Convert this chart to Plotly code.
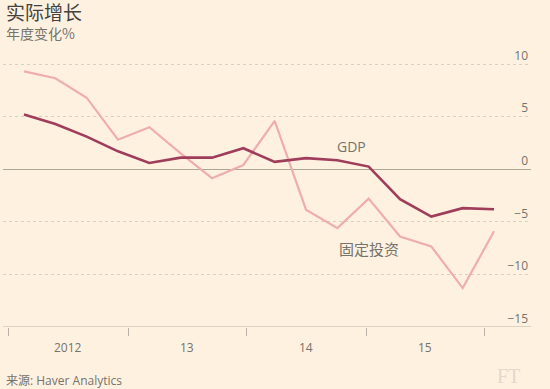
import plotly.graph_objects as go

quarters = ["2012Q1", "2012Q2", "2012Q3", "2012Q4",
            "2013Q1", "2013Q2", "2013Q3", "2013Q4",
            "2014Q1", "2014Q2", "2014Q3", "2014Q4",
            "2015Q1", "2015Q2", "2015Q3", "2015Q4"]
gdp = [5.2, 4.3, 3.1, 1.7, 0.6, 1.1, 1.1, 2.0, 0.7, 1.05, 0.85, 0.25, -2.85, -4.5, -3.7, -3.8]
investment = [9.3, 8.65, 6.8, 2.8, 4.0, 1.5, -0.85, 0.4, 4.6, -3.85, -5.6, -2.8, -6.4, -7.35, -11.3, -5.9]
year_labels = ["2012", "13", "14", "15"]
y_ticks = [10, 5, 0, -5, -10, -15]

idx = list(range(len(quarters)))
year_bounds = [-0.51, 3.32, 7.09, 10.92, 14.68]
year_mids = [(year_bounds[i] + year_bounds[i + 1]) / 2 for i in range(len(year_labels))]

BG = "#fff1e0"
GREY = "#74736c"

fig = go.Figure()
fig.add_trace(go.Scatter(x=idx, y=investment, mode="lines", name="固定投资",
                         line=dict(color="#efadb0", width=2.2), hoverinfo="skip"))
fig.add_trace(go.Scatter(x=idx, y=gdp, mode="lines", name="GDP",
                         line=dict(color="#9f3d5b", width=2.6), hoverinfo="skip"))

fig.update_layout(
    width=550, height=389,
    paper_bgcolor=BG, plot_bgcolor=BG,
    margin=dict(l=3, r=19, t=43, b=62),
    showlegend=False,
    font=dict(family="Open Sans, Noto Sans CJK SC", color=GREY, size=12),
    xaxis=dict(range=[-0.67, 16.18], tickmode="array", tickvals=year_bounds,
               ticks="outside", ticklen=8, tickcolor="#b9b1a5", tickwidth=1,
               showticklabels=False, showgrid=False, zeroline=False,
               showline=False, fixedrange=True),
    yaxis=dict(range=[-15, 12], tickmode="array", tickvals=y_ticks,
               side="right", ticklabelposition="inside top",
               tickfont=dict(size=12, color=GREY),
               showgrid=True, gridcolor="#d9cfc4", griddash="dot", gridwidth=1,
               zeroline=True, zerolinecolor="#aaa793", zerolinewidth=1,
               showline=False, ticks="", fixedrange=True),
)

# bottom axis line at -15
fig.add_shape(type="line", xref="paper", yref="y", x0=0, x1=1, y0=-15, y1=-15,
              line=dict(color="#b9b1a5", width=1))

for lab, xm in zip(year_labels, year_mids):
    fig.add_annotation(x=xm, y=-15, xref="x", yref="y", text=lab, showarrow=False,
                       yshift=-20, font=dict(size=12, color=GREY))

fig.add_annotation(x=10.45, y=2.2, xref="x", yref="y", text="GDP", showarrow=False,
                   font=dict(size=14, color=GREY))
fig.add_annotation(x=11.0, y=-7.5, xref="x", yref="y", text="固定投资", showarrow=False,
                   font=dict(size=15, color=GREY, family="Noto Sans CJK SC"))

fig.add_annotation(x=0.004, y=1.0, xref="paper", yref="paper", xanchor="left", yanchor="bottom",
                   align="left", yshift=-1,
                   text="<span style='font-size:19px;color:#43423e'>实际增长</span><br>"
                        "<span style='font-size:14px'>年度变化%</span>",
                   showarrow=False, borderpad=0,
                   font=dict(size=14.5, color=GREY, family="Noto Sans CJK SC"))
fig.add_annotation(x=0.004, y=-0.19, xref="paper", yref="paper", xanchor="left", yanchor="middle",
                   text="来源: Haver Analytics", showarrow=False, borderpad=0,
                   font=dict(size=12, color=GREY, family="Open Sans, Noto Sans CJK SC"))
fig.add_annotation(x=0.981, y=-0.215, xref="paper", yref="paper", xanchor="right", yanchor="bottom",
                   text="FT", showarrow=False, borderpad=0,
                   font=dict(size=20, color="#e2d8cc", family="Liberation Serif"))

fig.write_html("out.html", config={"displayModeBar": False},
               post_script="document.body.style.margin='0px';")
